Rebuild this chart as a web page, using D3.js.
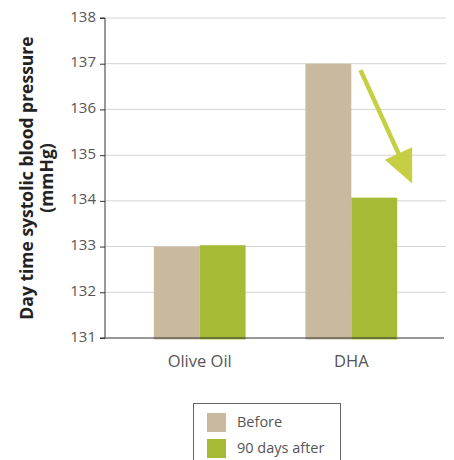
<!DOCTYPE html>
<html>
<head>
<meta charset="utf-8">
<script src="https://cdn.jsdelivr.net/npm/d3@7"></script>
<style>
  html, body { margin: 0; padding: 0; background: #fff; }
  svg { display: block; font-family: "Open Sans", sans-serif; }
</style>
</head>
<body>
<svg id="chart" width="454" height="460"></svg>
<script>
// Systolic blood pressure before and after 90 days, per supplement group
const groups = ["Olive Oil", "DHA"];
const seriesNames = ["Before", "90 days after"];
const beforeValues = [133.0, 137.0];
const afterValues = [133.03, 134.07];
const yTicks = [131, 132, 133, 134, 135, 136, 137, 138];
const colors = ["#c9b99f", "#a6ba36"];

const svg = d3.select("#chart");
const margin = { left: 105, right: 8, top: 18, bottom: 122 };
const W = 454, H = 460;
const plotW = W - margin.left - margin.right;
const plotH = H - margin.top - margin.bottom;

const g = svg.append("g").attr("transform", `translate(${margin.left},${margin.top})`);

const y = d3.scaleLinear().domain([131, 138]).range([plotH, 0]);
const x0 = d3.scaleBand().domain(groups).range([0, plotW]).paddingInner(0.395).paddingOuter(0.322);
const x1 = d3.scaleBand().domain(seriesNames).range([0, x0.bandwidth()]).padding(0);

// horizontal gridlines
g.append("g").selectAll("line").data(yTicks.filter(t => t > 131)).join("line")
  .attr("x1", 0).attr("x2", plotW)
  .attr("y1", d => y(d)).attr("y2", d => y(d))
  .attr("stroke", "#d4d4d4").attr("stroke-width", 1);

// bars
const data = groups.map((grp, i) => ({ grp, vals: [beforeValues[i], afterValues[i]] }));
const grpSel = g.append("g").selectAll("g").data(data).join("g")
  .attr("transform", d => `translate(${x0(d.grp)},0)`);
grpSel.selectAll("rect").data(d => d.vals.map((v, j) => ({ v, s: seriesNames[j], j }))).join("rect")
  .attr("x", d => x1(d.s))
  .attr("width", x1.bandwidth())
  .attr("y", d => y(d.v))
  .attr("height", d => y(131) - y(d.v) + 1.5)
  .attr("fill", d => colors[d.j]);

// y axis
const yAxis = g.append("g").call(d3.axisLeft(y).tickValues(yTicks).tickSize(5).tickPadding(4).tickFormat(d3.format("d")));
yAxis.select(".domain").attr("stroke", "#333").attr("d", `M-5,${y(138)}H0V${plotH}H-5`);
yAxis.selectAll(".tick line").attr("stroke", "#333");
yAxis.selectAll(".tick text").attr("font-size", 15).attr("fill", "#555")
  .attr("font-family", "Open Sans, sans-serif").attr("dy", "0.2em");

// x baseline and category labels
g.append("line").attr("x1", 0).attr("x2", plotW - 2).attr("y1", plotH).attr("y2", plotH)
  .attr("stroke", "#333").attr("stroke-width", 1.2);
g.append("g").selectAll("text").data(groups).join("text")
  .attr("x", d => x0(d) + x0.bandwidth() / 2)
  .attr("y", plotH + 29)
  .attr("text-anchor", "middle")
  .attr("font-size", 16.5).attr("fill", "#555")
  .text(d => d);

// y axis title
const title = svg.append("text")
  .attr("transform", `translate(33,${margin.top + plotH / 2}) rotate(-90)`)
  .attr("text-anchor", "middle")
  .attr("font-size", 17.5).attr("font-weight", "bold").attr("fill", "#222");
title.append("tspan").attr("x", 0).attr("dy", 0).text("Day time systolic blood pressure");
title.append("tspan").attr("x", 0).attr("dy", 20).text("(mmHg)");

// decline arrow over the DHA group
const xDha = x0("DHA");
const bw = x0.bandwidth();
const ax1 = xDha + bw * 0.6, ay1 = y(136.86);
const ax2 = xDha + bw + 15, ay2 = y(134.38);
const ang = Math.atan2(ay2 - ay1, ax2 - ax1);
const headLen = 33, headHalf = 15;
const bx = ax2 - headLen * Math.cos(ang), by = ay2 - headLen * Math.sin(ang);
g.append("line")
  .attr("x1", ax1).attr("y1", ay1)
  .attr("x2", bx + 6 * Math.cos(ang)).attr("y2", by + 6 * Math.sin(ang))
  .attr("stroke", "#c6cf43").attr("stroke-width", 4.5);
g.append("path")
  .attr("d", `M${ax2},${ay2}L${bx - headHalf * Math.sin(ang)},${by + headHalf * Math.cos(ang)}L${bx + headHalf * Math.sin(ang)},${by - headHalf * Math.cos(ang)}Z`)
  .attr("fill", "#c6cf43");

// legend
const leg = svg.append("g").attr("transform", "translate(193,403)");
leg.append("rect").attr("x", 0.5).attr("y", 0.5).attr("width", 147).attr("height", 70)
  .attr("fill", "#fff").attr("stroke", "#666").attr("stroke-width", 1);
seriesNames.forEach((s, i) => {
  leg.append("rect").attr("x", 14).attr("y", 10 + i * 26).attr("width", 19).attr("height", 19).attr("fill", colors[i]);
  leg.append("text").attr("x", 44).attr("y", 24 + i * 26).attr("font-size", 14.5).attr("fill", "#555").text(s);
});
</script>
</body>
</html>
